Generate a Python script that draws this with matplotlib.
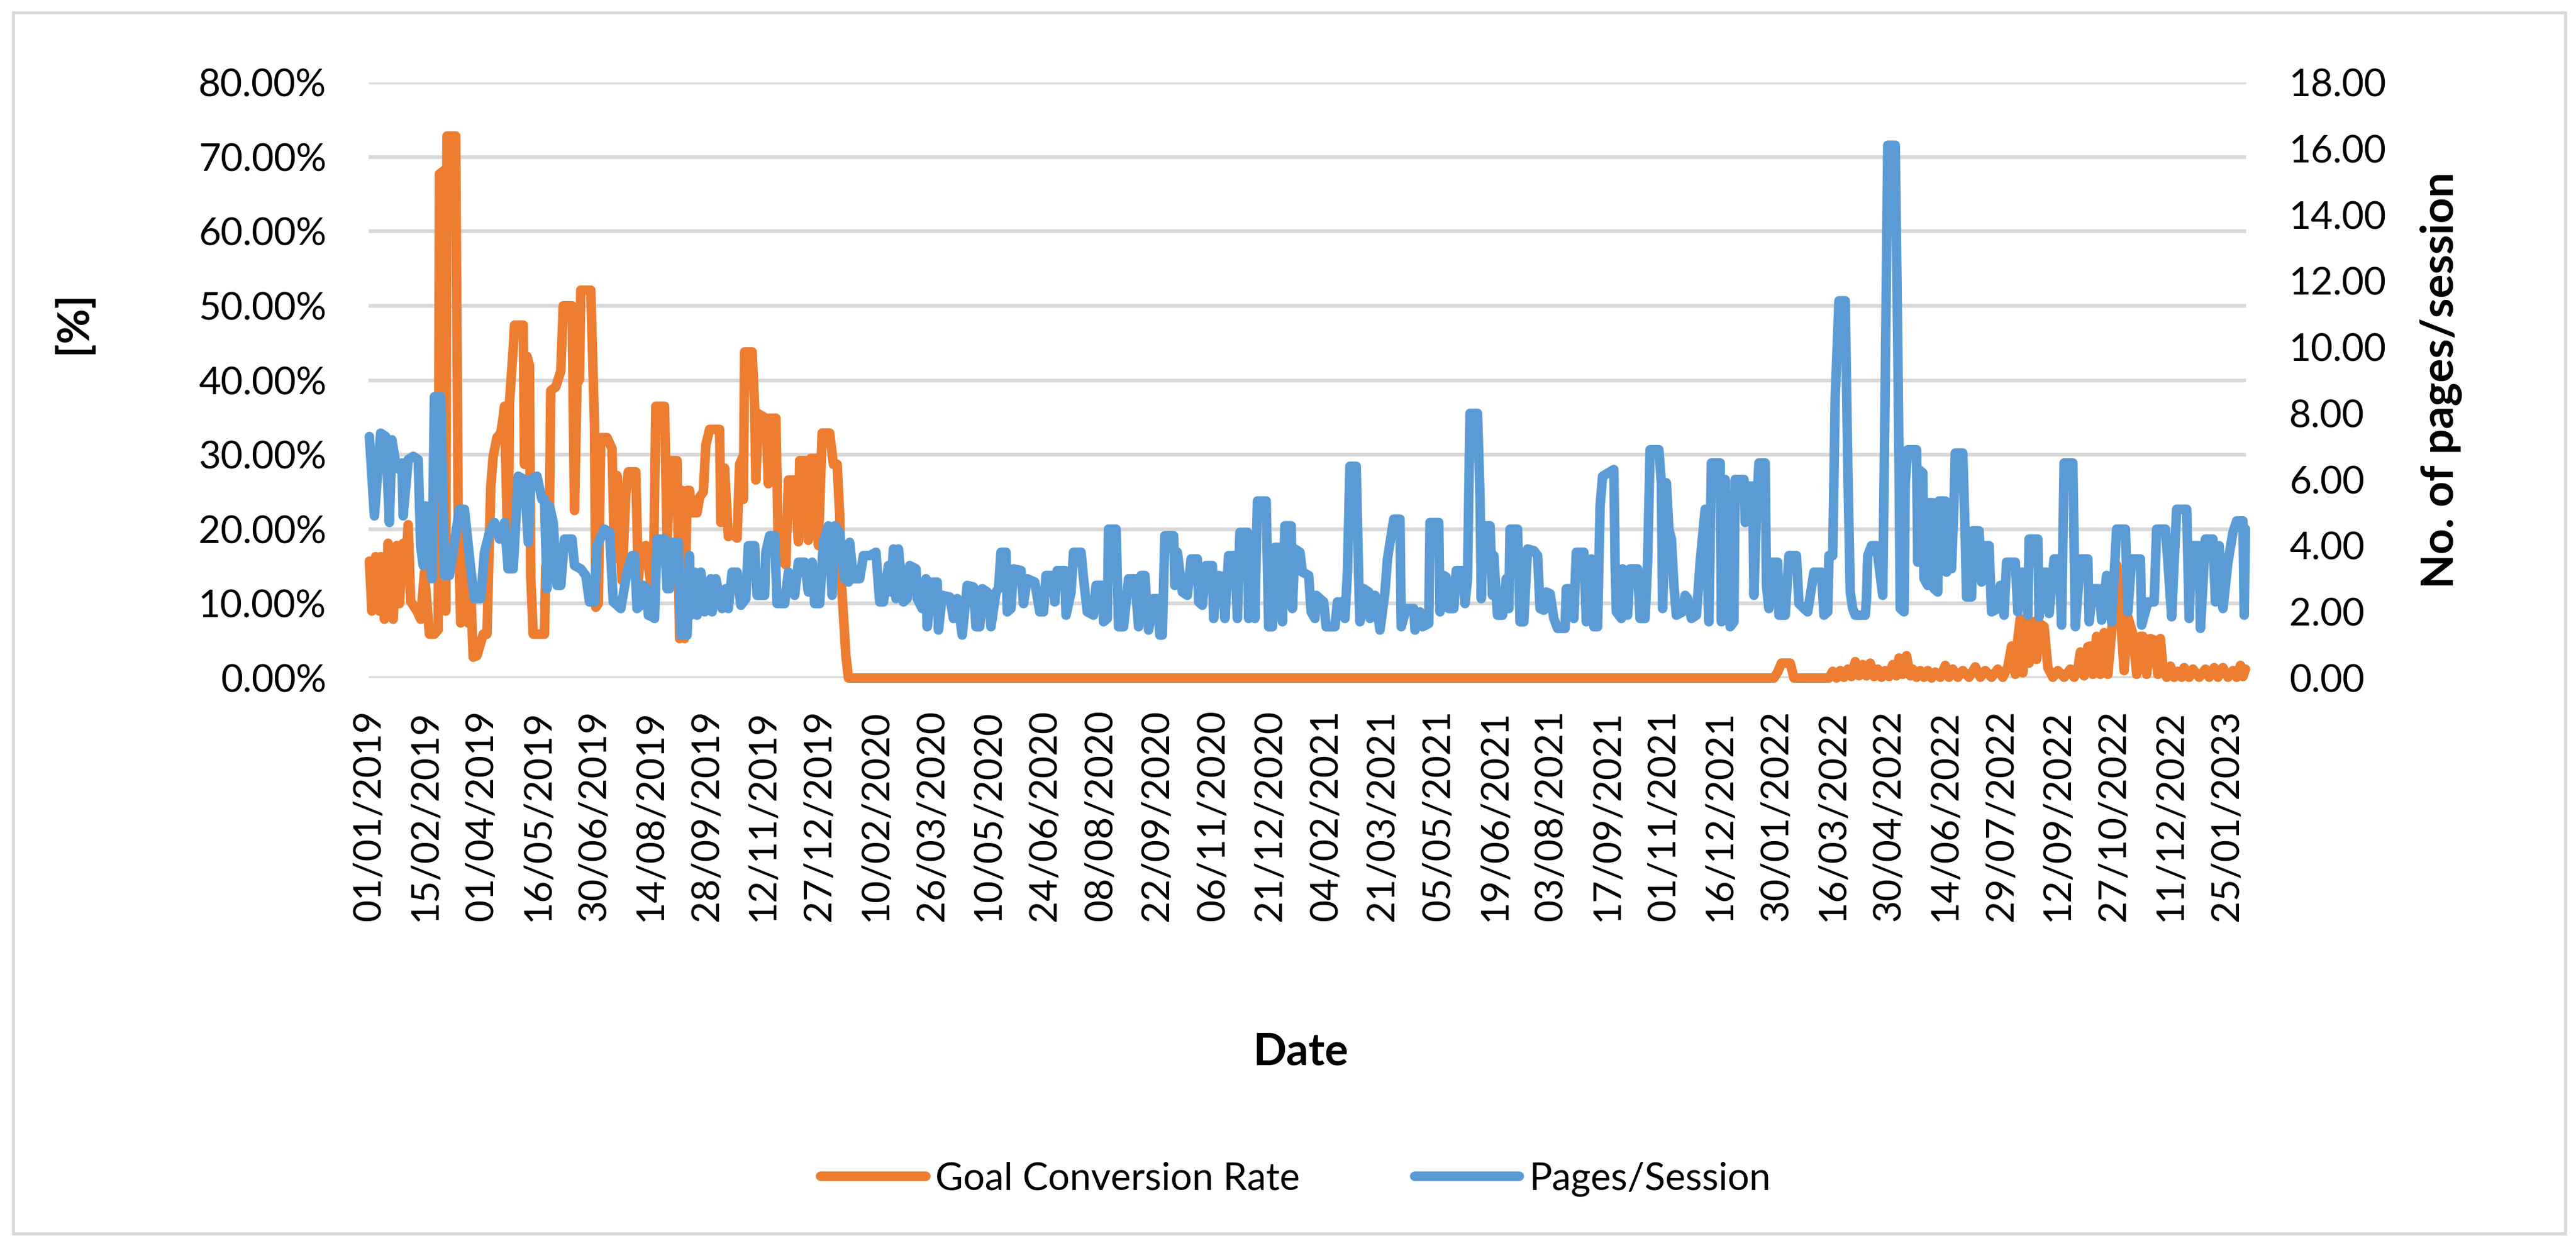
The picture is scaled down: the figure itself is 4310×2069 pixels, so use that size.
import matplotlib
matplotlib.use("Agg")
import matplotlib.pyplot as plt
from matplotlib.patches import Rectangle

plt.rcParams['font.family'] = ['Lato', 'DejaVu Sans']

# ---------------- data ----------------
# x = day index counted from 01/01/2019 (daily categories, 1501 days)
N_DAYS = 1501

date_labels = ["01/01/2019", "15/02/2019", "01/04/2019", "16/05/2019", "30/06/2019",
               "14/08/2019", "28/09/2019", "12/11/2019", "27/12/2019", "10/02/2020",
               "26/03/2020", "10/05/2020", "24/06/2020", "08/08/2020", "22/09/2020",
               "06/11/2020", "21/12/2020", "04/02/2021", "21/03/2021", "05/05/2021",
               "19/06/2021", "03/08/2021", "17/09/2021", "01/11/2021", "16/12/2021",
               "30/01/2022", "16/03/2022", "30/04/2022", "14/06/2022", "29/07/2022",
               "12/09/2022", "27/10/2022", "11/12/2022", "25/01/2023"]
label_step = 45  # one label every 45 categories (days)

# Goal Conversion Rate [%]
gcr_day = [0, 2, 5, 8, 9, 12, 15, 19, 22, 24, 27, 29, 31, 33, 38, 41, 44, 48, 52, 55,
           56, 60, 61, 62, 69, 71, 73, 76, 79, 81, 83, 86, 91, 94, 97, 99, 102, 105, 107, 108,
           111, 112, 115, 116, 123, 124, 126, 128, 129, 131, 140, 141, 143, 144, 145, 149, 153, 155, 162, 164,
           166, 168, 169, 177, 179, 180, 181, 183, 185, 190, 194, 196, 198, 202, 205, 207, 213, 215, 217, 221,
           225, 227, 229, 236, 238, 241, 246, 248, 250, 252, 254, 256, 258, 262, 264, 267, 269, 272, 280, 281,
           284, 287, 289, 294, 296, 298, 299, 300, 306, 308, 309, 311, 317, 319, 320, 325, 327, 330, 333, 335,
           340, 343, 344, 349, 351, 353, 358, 359, 362, 368, 371, 374, 376, 377, 381, 383, 1123, 1126, 1129, 1136,
           1139, 1167, 1170, 1173, 1176, 1179, 1182, 1185, 1188, 1191, 1194, 1197, 1200, 1203, 1206, 1209, 1212, 1215, 1218, 1221,
           1223, 1226, 1229, 1232, 1234, 1237, 1240, 1243, 1246, 1249, 1252, 1256, 1260, 1263, 1266, 1270, 1274, 1279, 1284, 1288,
           1292, 1297, 1302, 1306, 1310, 1313, 1316, 1318, 1320, 1322, 1324, 1327, 1330, 1333, 1335, 1339, 1342, 1346, 1350, 1355,
           1360, 1363, 1366, 1368, 1371, 1374, 1376, 1378, 1381, 1384, 1387, 1390, 1393, 1397, 1400, 1403, 1406, 1410, 1413, 1416,
           1418, 1421, 1424, 1427, 1430, 1432, 1434, 1437, 1440, 1443, 1446, 1449, 1451, 1455, 1458, 1463, 1468, 1471, 1475, 1478,
           1482, 1486, 1490, 1493, 1496, 1498, 1500]
gcr_val = [15.7, 9.0, 16.3, 9.0, 16.3, 7.9, 18.1, 7.9, 17.8, 10.0, 18.1, 14.7, 20.6, 10.3, 9.0, 7.9, 14.2, 5.9, 5.9, 6.5,
           67.7, 68.2, 9.0, 72.8, 72.8, 20.9, 7.4, 20.9, 7.4, 12.0, 2.8, 3.0, 5.9, 5.9, 25.6, 29.8, 32.3, 32.9, 35.0, 36.5,
           14.7, 37.0, 44.3, 47.4, 47.4, 28.7, 43.2, 42.0, 13.7, 5.9, 5.9, 15.0, 14.7, 23.0, 38.6, 39.1, 41.2, 50.0, 50.0, 22.5,
           39.6, 40.1, 52.1, 52.1, 40.0, 33.9, 9.5, 10.0, 32.3, 32.3, 30.8, 16.0, 27.2, 13.1, 24.6, 27.7, 27.7, 13.1, 17.3, 17.8,
           12.6, 11.6, 36.5, 36.5, 18.3, 29.2, 29.2, 5.3, 25.2, 5.3, 25.2, 25.2, 22.2, 22.2, 24.3, 25.0, 31.3, 33.4, 33.4, 20.9,
           28.2, 19.0, 19.4, 18.8, 28.7, 29.5, 24.0, 43.8, 43.8, 36.5, 26.6, 35.5, 34.9, 26.1, 34.9, 34.9, 16.8, 15.7, 15.2, 26.6,
           26.6, 18.3, 29.2, 29.2, 18.5, 29.5, 29.5, 17.8, 32.9, 32.9, 28.7, 28.7, 22.0, 14.0, 3.0, 0.0, 0.0, 0.8, 2.0, 2.0,
           0.0, 0.0, 0.9, 0.0, 1.0, 0.1, 1.2, 0.2, 2.2, 0.3, 1.8, 0.3, 2.0, 0.2, 1.2, 0.1, 1.0, 0.2, 1.8, 0.3,
           2.7, 0.5, 3.0, 0.3, 1.2, 0.1, 1.0, 0.1, 1.0, 0.0, 0.8, 0.1, 1.7, 0.1, 1.2, 0.1, 1.0, 0.1, 1.5, 0.1,
           1.0, 0.1, 1.2, 0.1, 1.5, 4.3, 0.5, 5.3, 8.0, 0.7, 8.0, 2.0, 7.6, 2.5, 7.4, 6.9, 1.4, 0.1, 1.0, 0.1,
           1.2, 0.1, 1.2, 3.5, 0.3, 4.2, 4.3, 0.5, 5.6, 0.5, 6.1, 0.5, 6.3, 15.2, 8.5, 1.0, 8.2, 5.9, 0.5, 5.6,
           5.6, 0.5, 5.3, 5.1, 0.5, 5.3, 1.4, 0.1, 1.6, 0.1, 0.9, 0.1, 1.4, 0.1, 1.2, 0.1, 1.2, 0.1, 1.4, 0.1,
           1.4, 0.1, 1.0, 0.1, 1.7, 0.2, 1.2]

# Pages/Session
pps_day = [0, 4, 9, 13, 16, 18, 21, 24, 26, 27, 31, 35, 39, 41, 43, 45, 48, 50, 52, 57,
           60, 64, 68, 72, 76, 81, 84, 89, 92, 96, 100, 104, 108, 111, 115, 119, 124, 127, 129, 134,
           138, 140, 142, 144, 147, 150, 153, 156, 162, 164, 169, 173, 176, 180, 182, 188, 192, 195, 201, 206,
           210, 212, 214, 217, 219, 222, 223, 226, 228, 230, 236, 238, 240, 242, 247, 249, 254, 256, 257, 260,
           262, 265, 268, 273, 274, 277, 282, 285, 287, 290, 294, 297, 301, 303, 308, 310, 316, 317, 320, 324,
           326, 332, 335, 340, 343, 348, 351, 354, 356, 360, 363, 367, 370, 372, 376, 380, 383, 384, 387, 392,
           395, 400, 405, 408, 411, 415, 417, 419, 421, 423, 427, 430, 432, 437, 438, 442, 445, 446, 450, 454,
           455, 458, 464, 467, 470, 474, 478, 483, 485, 488, 490, 494, 497, 501, 503, 505, 509, 510, 513, 515,
           521, 523, 526, 532, 536, 539, 541, 546, 548, 550, 556, 557, 561, 563, 569, 571, 574, 579, 581, 586,
           587, 590, 591, 597, 599, 603, 607, 612, 615, 617, 620, 623, 627, 630, 632, 634, 636, 643, 644, 646,
           650, 654, 657, 662, 663, 666, 669, 674, 675, 679, 683, 684, 687, 692, 694, 696, 702, 703, 706, 708,
           710, 717, 719, 722, 724, 729, 730, 732, 737, 738, 740, 744, 746, 751, 753, 756, 757, 763, 765, 772,
           774, 778, 780, 782, 784, 789, 791, 792, 795, 799, 800, 804, 808, 812, 814, 819, 824, 825, 829, 835,
           836, 840, 842, 847, 848, 855, 856, 859, 861, 863, 867, 869, 874, 876, 878, 880, 886, 888, 889, 891,
           896, 898, 899, 902, 906, 909, 911, 912, 918, 920, 923, 926, 931, 934, 936, 939, 941, 944, 947, 950,
           956, 957, 961, 963, 965, 971, 973, 977, 979, 982, 984, 986, 995, 996, 997, 1001, 1002, 1006, 1008, 1014,
           1016, 1020, 1022, 1024, 1031, 1033, 1034, 1037, 1039, 1041, 1043, 1045, 1050, 1052, 1054, 1057, 1061, 1064, 1067, 1068,
           1071, 1073, 1080, 1081, 1084, 1087, 1088, 1091, 1092, 1099, 1100, 1102, 1106, 1107, 1109, 1111, 1116, 1117, 1119, 1121,
           1126, 1127, 1132, 1135, 1141, 1143, 1147, 1150, 1155, 1161, 1163, 1166, 1167, 1170, 1172, 1175, 1180, 1182, 1184, 1186,
           1188, 1196, 1197, 1198, 1201, 1205, 1210, 1212, 1214, 1220, 1222, 1223, 1224, 1227, 1228, 1230, 1237, 1238, 1239, 1242,
           1243, 1246, 1247, 1250, 1251, 1254, 1255, 1260, 1261, 1263, 1265, 1267, 1268, 1274, 1276, 1277, 1281, 1282, 1287, 1289,
           1290, 1295, 1297, 1302, 1304, 1307, 1309, 1316, 1318, 1321, 1325, 1326, 1327, 1334, 1335, 1338, 1341, 1343, 1347, 1351,
           1353, 1355, 1362, 1364, 1368, 1374, 1375, 1378, 1383, 1385, 1389, 1393, 1397, 1404, 1406, 1409, 1416, 1417, 1422, 1427,
           1429, 1436, 1438, 1441, 1443, 1445, 1453, 1455, 1457, 1463, 1464, 1468, 1474, 1476, 1479, 1482, 1486, 1490, 1493, 1498,
           1499, 1500]
pps_val = [7.3, 4.9, 7.4, 7.3, 4.7, 7.2, 6.5, 6.3, 6.5, 4.9, 6.6, 6.7, 6.6, 4.0, 3.4, 5.2, 4.0, 3.0, 8.5, 8.5,
           3.1, 3.1, 4.1, 5.1, 5.1, 3.3, 2.4, 2.4, 3.8, 4.4, 4.7, 4.2, 4.7, 3.3, 3.3, 6.1, 6.0, 4.1, 6.0, 6.1,
           5.4, 5.4, 2.7, 5.2, 4.7, 2.8, 2.8, 4.2, 4.2, 3.4, 3.3, 3.1, 2.3, 2.3, 4.0, 4.5, 4.4, 2.3, 2.1, 3.2,
           3.7, 3.7, 2.1, 2.2, 2.8, 2.7, 1.9, 1.85, 1.8, 4.2, 4.2, 2.7, 2.7, 4.1, 4.1, 1.3, 1.3, 3.7, 1.9, 3.2,
           1.9, 3.2, 2.0, 3.0, 2.0, 3.0, 2.1, 2.7, 2.1, 3.2, 3.2, 2.2, 2.4, 4.0, 4.0, 2.5, 2.5, 3.8, 4.3, 4.3,
           2.25, 2.25, 3.2, 2.5, 3.5, 3.5, 2.6, 3.5, 2.25, 2.25, 4.1, 4.6, 2.5, 4.6, 4.4, 3.0, 2.9, 4.1, 3.0, 3.0,
           3.7, 3.7, 3.8, 2.3, 2.3, 3.4, 2.6, 3.9, 2.4, 3.9, 2.3, 2.4, 3.4, 3.3, 2.4, 2.1, 3.0, 1.55, 2.9, 2.9,
           1.45, 2.5, 2.45, 1.8, 2.4, 1.3, 2.8, 2.75, 1.55, 1.55, 2.7, 2.6, 1.55, 2.6, 2.7, 3.8, 3.8, 2.0, 2.1, 3.3,
           3.25, 2.25, 3.0, 2.9, 2.0, 2.0, 3.1, 3.1, 2.3, 3.25, 3.25, 1.9, 2.6, 3.8, 3.8, 3.0, 2.0, 1.9, 2.8, 2.8,
           1.7, 1.8, 4.5, 4.5, 1.55, 1.55, 3.0, 3.0, 1.55, 3.1, 3.1, 1.45, 2.4, 2.4, 1.3, 1.3, 4.3, 4.3, 2.8, 3.8,
           2.6, 2.5, 3.6, 3.6, 2.3, 2.2, 3.4, 3.4, 1.8, 3.1, 3.05, 1.8, 3.7, 3.7, 1.8, 4.4, 4.4, 1.8, 4.2, 1.8,
           5.35, 5.35, 1.55, 1.55, 3.95, 3.95, 1.7, 4.6, 4.6, 2.1, 3.9, 3.8, 3.2, 3.1, 2.0, 1.8, 2.5, 2.3, 1.55, 1.55,
           2.3, 2.3, 1.8, 3.2, 6.4, 6.4, 3.0, 1.7, 2.7, 2.6, 1.8, 2.5, 1.45, 2.6, 3.6, 4.8, 4.8, 1.55, 2.1, 2.1,
           1.45, 2.0, 1.55, 1.65, 4.7, 4.7, 2.0, 3.1, 3.05, 2.1, 2.1, 3.25, 3.25, 2.25, 3.0, 8.0, 8.0, 5.5, 2.4, 4.6,
           4.6, 2.5, 3.7, 1.9, 1.9, 3.0, 2.1, 4.5, 4.5, 1.7, 1.7, 3.9, 3.85, 3.7, 2.1, 2.05, 2.6, 2.55, 1.8, 1.5,
           1.5, 2.7, 2.7, 1.8, 3.8, 3.8, 1.7, 3.6, 1.55, 1.55, 5.2, 6.1, 6.3, 3.5, 2.0, 1.8, 3.3, 1.9, 3.3, 3.3,
           1.8, 1.8, 3.5, 6.9, 6.9, 5.9, 2.1, 5.9, 4.5, 4.2, 2.8, 1.9, 2.0, 2.5, 2.4, 1.8, 1.9, 3.5, 4.7, 5.1,
           1.7, 6.5, 6.5, 1.7, 6.0, 2.0, 1.55, 1.7, 6.0, 6.0, 4.7, 5.8, 5.8, 2.5, 5.0, 6.5, 6.5, 2.8, 2.1, 3.5,
           3.5, 1.9, 1.9, 3.7, 3.7, 2.25, 2.1, 2.0, 3.2, 3.2, 1.9, 2.0, 3.7, 3.7, 8.5, 11.4, 11.4, 6.5, 2.6, 2.1,
           1.9, 1.9, 2.4, 3.7, 4.0, 4.0, 2.5, 9.0, 16.1, 16.1, 10.0, 6.5, 2.1, 2.0, 5.9, 6.9, 6.9, 3.5, 6.3, 6.2,
           3.0, 2.8, 5.3, 5.3, 2.7, 2.6, 5.35, 5.35, 3.2, 5.3, 3.3, 5.3, 6.8, 6.8, 4.2, 2.45, 2.45, 4.45, 4.45, 2.9,
           4.0, 4.0, 2.0, 2.1, 2.8, 1.9, 3.5, 3.5, 2.0, 3.2, 3.2, 1.9, 4.2, 4.2, 1.85, 3.2, 3.2, 1.95, 3.6, 3.6,
           1.6, 6.5, 6.5, 1.55, 3.6, 3.6, 1.7, 2.7, 2.7, 1.75, 3.1, 1.7, 4.5, 4.5, 2.0, 3.6, 3.6, 1.6, 2.3, 2.3,
           4.5, 4.5, 3.5, 1.85, 3.5, 5.1, 5.1, 1.8, 4.0, 4.0, 1.5, 4.2, 4.2, 2.3, 4.0, 2.1, 3.5, 4.4, 4.75, 4.75,
           1.9, 4.5]

left_ticks = [0, 10, 20, 30, 40, 50, 60, 70, 80]
left_labels = ["0.00%", "10.00%", "20.00%", "30.00%", "40.00%", "50.00%", "60.00%", "70.00%", "80.00%"]
right_ticks = [0, 2, 4, 6, 8, 10, 12, 14, 16, 18]
right_labels = ["0.00", "2.00", "4.00", "6.00", "8.00", "10.00", "12.00", "14.00", "16.00", "18.00"]

ORANGE = "#ED7D31"
BLUE = "#5B9BD5"
GRID = "#D9D9D9"

# ---------------- figure ----------------
W, H = 4310, 2069
fig = plt.figure(figsize=(W / 100, H / 100), dpi=100)
fig.patch.set_facecolor("white")

# outer chart border
fig.add_artist(Rectangle((22 / W, 1 - 2065 / H), 4270 / W, 2044 / H,
                         transform=fig.transFigure, fill=False,
                         edgecolor=GRID, linewidth=3.6))

ax = fig.add_axes([617 / W, 1 - 1135 / H, 3141 / W, 997 / H])
ax2 = ax.twinx()

l1, = ax.plot(gcr_day, gcr_val, color=ORANGE, lw=11.5, solid_joinstyle="round",
              solid_capstyle="round", clip_on=False, label="Goal Conversion Rate")
l2, = ax2.plot(pps_day, pps_val, color=BLUE, lw=11.5, solid_joinstyle="round",
               solid_capstyle="round", clip_on=False, label="Pages/Session")

ax.set_xlim(-0.5, N_DAYS - 0.5)
ax.set_ylim(0, 80)
ax2.set_ylim(0, 18)

ax.set_yticks(left_ticks)
ax.set_yticklabels(left_labels)
ax2.set_yticks(right_ticks)
ax2.set_yticklabels(right_labels)
ax.yaxis.grid(True, color=GRID, lw=4.6)
ax.set_axisbelow(True)

xt = list(range(0, label_step * len(date_labels), label_step))
ax.set_xticks(xt)
ax.set_xticklabels(date_labels, rotation=90)

for a in (ax, ax2):
    for s in a.spines.values():
        s.set_visible(False)

ax.tick_params(axis="y", length=0, labelsize=46, pad=51)
ax2.tick_params(axis="y", length=0, labelsize=46, pad=52)
ax.tick_params(axis="x", length=0, labelsize=46, pad=38)
for t in ax2.get_yticklabels():
    t.set_horizontalalignment("left")

fig.text(123 / W, 1 - 540 / H, "[%]", rotation=90, fontsize=52, fontweight="bold",
         ha="center", va="center")
fig.text(4085 / W, 1 - 636 / H, "No. of pages/session", rotation=90, fontsize=54,
         fontweight="bold", ha="center", va="center")
fig.text(2176 / W, 1 - 1761 / H, "Date", fontsize=53, fontweight="bold",
         ha="center", va="center")

fig.legend(handles=[l1, l2], loc="center", bbox_to_anchor=(2168 / W, 1 - 1974 / H),
           ncol=2, frameon=False, fontsize=46, handlelength=2.75, handletextpad=0.25,
           columnspacing=3.0)

fig.savefig("out.png", dpi=100, facecolor="white")
